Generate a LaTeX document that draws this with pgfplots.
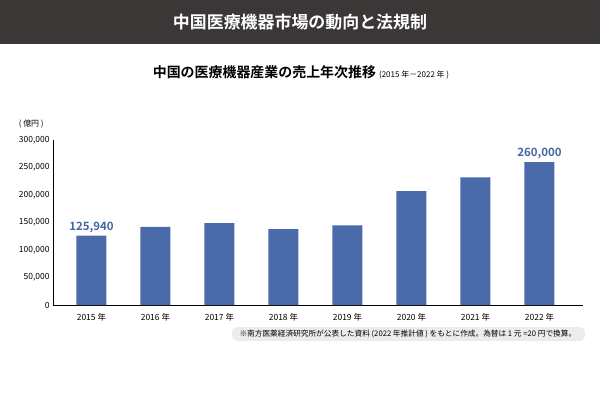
\documentclass[border=0pt]{standalone}
\usepackage{pgfplots}
\pgfplotsset{compat=1.18}
\usepackage{fontspec}
\setmainfont{Noto Sans CJK JP}
\newfontfamily\jpbold{Noto Sans CJK JP Bold}
\definecolor{barblue}{HTML}{4A6AAA}
\definecolor{labblue}{HTML}{4565A0}
\definecolor{header}{HTML}{3A3736}
\definecolor{notebg}{HTML}{ECECEC}
\begin{document}
\begin{tikzpicture}[x=1bp,y=1bp]
\path (0,0) rectangle (600,402);
\fill[header] (0,358) rectangle (600,402);
\node[white,font=\jpbold\fontsize{17}{20}\selectfont] at (300,380) {中国医療機器市場の動向と法規制};
\node[font=\fontsize{14}{16}\selectfont] at (301,330) {{\jpbold 中国の医療機器産業の売上年次推移} {\fontsize{8}{9}\selectfont (2015 年－2022 年 )}};
\fill[notebg,rounded corners=6bp] (232,61) rectangle (585,75);
\node[font=\fontsize{7.7}{9}\selectfont,anchor=west] at (236,68) {※南方医薬経済研究所が公表した資料 (2022 年推計値 ) をもとに作成。為替は 1 元 =20 円で換算。};
\begin{axis}[
    at={(53bp,97bp)}, anchor=south west,
    scale only axis, width=530bp, height=165bp,
    ymin=0, ymax=300000,
    xmin=-0.6, xmax=7.68,
    axis x line*=bottom, axis y line*=left,
    axis line style={black, line width=0.8pt},
    tick style={draw=none},
    xtick=data,
    xticklabels={2015 年,2016 年,2017 年,2018 年,2019 年,2020 年,2021 年,2022 年},
    ytick={0,50000,...,300000},
    yticklabel style={/pgf/number format/fixed, /pgf/number format/1000 sep={,}},
    /pgf/number format/assume math mode=true,
    scaled y ticks=false,
    ticklabel style={font=\fontsize{8.5}{10}\selectfont},
    xticklabel style={yshift=-1bp},
    ybar, bar width=30bp,
    clip=false,
]
\addplot[fill=barblue, draw=none] coordinates {
    (0,125940) (1,142000) (2,149000) (3,138000)
    (4,145000) (5,207000) (6,232000) (7,260000)
};
\node[labblue, font=\jpbold\fontsize{11.5}{13}\selectfont, anchor=south, inner sep=2.5bp] at (axis cs:0,125940) {125,940};
\node[labblue, font=\jpbold\fontsize{11.5}{13}\selectfont, anchor=south, inner sep=2.5bp] at (axis cs:7,260000) {260,000};
\node[font=\fontsize{8}{9}\selectfont] at (axis cs:-0.94,329000) {( 億円 )};
\end{axis}
\end{tikzpicture}
\end{document}
